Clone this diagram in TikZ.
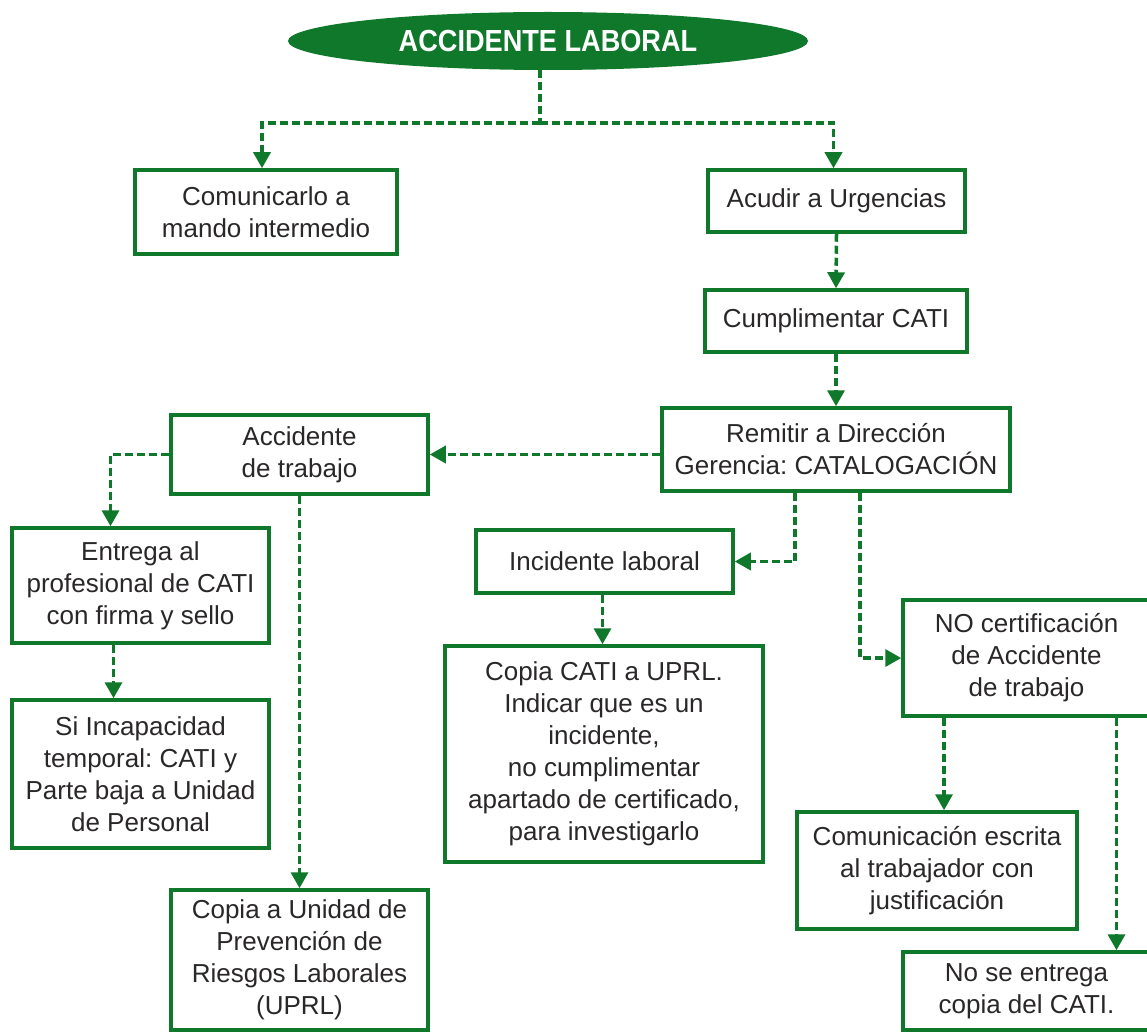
\documentclass[tikz,border=0pt]{standalone}
\usepackage{fontspec}
\setmainfont{Liberation Sans}
\newfontfamily\titlefont[FakeStretch=0.89]{Liberation Sans Bold}
\usetikzlibrary{arrows.meta,shapes.geometric}
\definecolor{fgreen}{HTML}{0F782A}
\definecolor{ink}{HTML}{2A2728}
\frenchspacing
\tikzset{
  box/.style={draw=fgreen, line width=3.5pt, rectangle, fill=white, inner sep=0pt,
    align=center, text=ink, font=\fontsize{26}{32}\selectfont},
  link/.style={draw=fgreen, line width=3.5pt, dash pattern=on 8pt off 4pt},
  arr/.style={link, -{Triangle[length=16pt,width=17pt]}},
}
\begin{document}
\begin{tikzpicture}[x=1pt, y=-1pt]
\useasboundingbox (0,0) rectangle (1147,1032);

% title
\node[ellipse, fill=fgreen, minimum width=520pt, minimum height=58pt, inner sep=0pt,
      text=white, font=\titlefont\fontsize{30.5}{34}\selectfont] (title) at (548,41) {ACCIDENTE LABORAL};

% boxes
\node[box, minimum width=262pt, minimum height=84pt]  (comun)   at (266,212)   {Comunicarlo a\\mando intermedio};
\node[box, minimum width=257pt, minimum height=62pt]  (acudir)  at (836.5,201) {Acudir a Urgencias};
\node[box, minimum width=262pt, minimum height=62pt]  (cumpl)   at (836,321)   {Cumplimentar CATI};
\node[box, minimum width=348pt, minimum height=83pt]  (remitir) at (836,449.5) {Remitir a Dirección\\Gerencia: CATALOGACIÓN};
\node[box, minimum width=257pt, minimum height=79pt]  (acc)     at (299.5,454.5) {Accidente\\de trabajo};
\node[box, minimum width=257pt, minimum height=115pt] (entrega) at (140.5,585.5) {Entrega al\\profesional de CATI\\con firma y sello};
\node[box, minimum width=257pt, minimum height=148pt] (incap)   at (140.5,774) {Si Incapacidad\\temporal: CATI y\\Parte baja a Unidad\\de Personal};
\node[box, minimum width=257pt, minimum height=140pt] (uprl)    at (299.5,960) {Copia a Unidad de\\Prevención de\\Riesgos Laborales\\(UPRL)};
\node[box, minimum width=257pt, minimum height=63pt]  (incid)   at (604.5,561.5) {Incidente laboral};
\node[box, minimum width=318pt, minimum height=216pt] (copia)   at (604,754) {Copia CATI a UPRL.\\Indicar que es un\\incidente,\\no cumplimentar\\apartado de certificado,\\para investigarlo};
\node[box, minimum width=247pt, minimum height=116pt] (nocert)  at (1026.5,658) {NO certificación\\de Accidente\\de trabajo};
\node[box, minimum width=280pt, minimum height=117pt] (comunic) at (937,870.5) {Comunicación escrita\\al trabajador con\\justificación};
\node[box, minimum width=247pt, minimum height=78pt]  (nose)    at (1026.5,991) {No se entrega\\copia del CATI.};

% connectors
\coordinate (split) at (540,123);
\draw[link] (title.south -| split) -- (split);
\draw[arr] (split) -| ([xshift=-4pt]comun.north);
\draw[arr] (split) -| ([xshift=-3pt]acudir.north);
\draw[arr] (acudir.south) -- (cumpl.north);
\draw[arr] (cumpl.south) -- (remitir.north);
\draw[arr] (acc.east -| remitir.west) -- (acc.east);
\draw[arr] (acc.west) -| ([xshift=-30pt]entrega.north);
\draw[arr] (acc.south) -- (uprl.north);
\draw[arr] ([xshift=-27pt]entrega.south) -- ([xshift=-27pt]incap.north);
\draw[arr] ([xshift=-41pt]remitir.south) |- (incid.east);
\draw[arr] ([xshift=-2pt]incid.south) -- ([xshift=-2pt]copia.north -| incid.south);
\draw[arr] ([xshift=24pt]remitir.south) |- (nocert.west);
\draw[arr] ([xshift=7pt]comunic.north |- nocert.south) -- ([xshift=7pt]comunic.north);
\draw[arr] ([xshift=90pt]nose.north |- nocert.south) -- ([xshift=90pt]nose.north);
\end{tikzpicture}
\end{document}
